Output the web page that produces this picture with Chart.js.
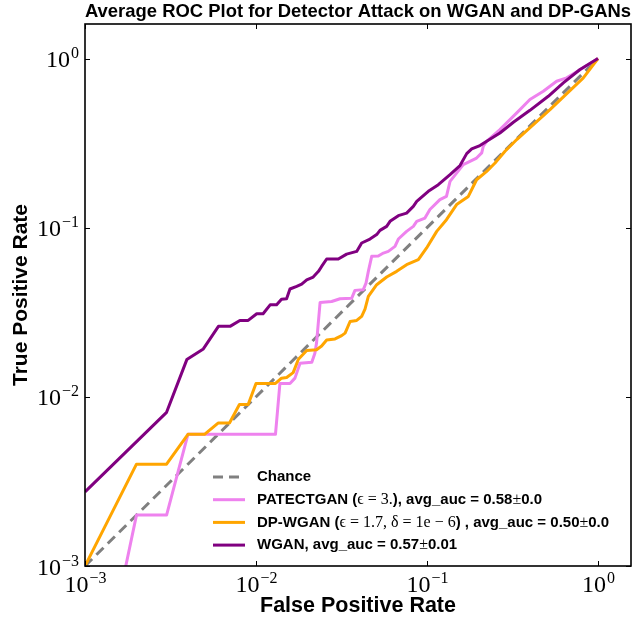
<!DOCTYPE html>
<html>
<head>
<meta charset="utf-8">
<script src="https://cdn.jsdelivr.net/npm/chart.js@4.4.0/dist/chart.umd.min.js"></script>
<style>
  html, body { margin: 0; padding: 0; background: #fff; }
</style>
</head>
<body>
<canvas id="rocChart" width="634" height="619"></canvas>
<script>
// Average ROC curves, log-log axes

const tickValues = [0.001, 0.01, 0.1, 1];
const tickBase = "10";
const tickExponents = ["−3", "−2", "−1", "0"];

const chanceFpr = [0.001, 1];
const chanceTpr = [0.001, 1];

const patectFpr = [0.0015, 0.002, 0.003, 0.004, 0.013, 0.0138, 0.0158, 0.0169, 0.0181, 0.0212, 0.0221, 0.0226, 0.0237, 0.0277, 0.031, 0.0363, 0.0379, 0.0424, 0.044, 0.0454, 0.0475, 0.0519, 0.0556, 0.0594, 0.065, 0.068, 0.076, 0.0832, 0.0871, 0.0973, 0.104, 0.119, 0.13, 0.1364, 0.163, 0.195, 0.209, 0.2135, 0.2234, 0.267, 0.335, 0.4, 0.479, 0.573, 0.656, 0.821, 1];
const patectTpr = [0.0005, 0.002, 0.002, 0.006, 0.006, 0.012, 0.012, 0.0129, 0.0158, 0.016, 0.0181, 0.0208, 0.0361, 0.0366, 0.038, 0.0383, 0.0426, 0.043, 0.047, 0.0552, 0.0677, 0.068, 0.0708, 0.0724, 0.0775, 0.0857, 0.0951, 0.1018, 0.109, 0.114, 0.128, 0.1465, 0.153, 0.188, 0.236, 0.258, 0.277, 0.303, 0.324, 0.38, 0.477, 0.572, 0.641, 0.734, 0.769, 0.881, 1];

const dpwganFpr = [0.001, 0.002, 0.003, 0.004, 0.005, 0.006, 0.007, 0.008, 0.009, 0.01, 0.013, 0.0141, 0.0151, 0.0165, 0.0177, 0.0198, 0.0226, 0.0242, 0.0259, 0.029, 0.0317, 0.0332, 0.0355, 0.0388, 0.0415, 0.0434, 0.0454, 0.0508, 0.0581, 0.0665, 0.076, 0.089, 0.0995, 0.114, 0.13, 0.149, 0.1745, 0.195, 0.2234, 0.25, 0.286, 0.335, 0.524, 0.821, 1];
const dpwganTpr = [0.001, 0.004, 0.004, 0.006, 0.006, 0.007, 0.007, 0.009, 0.009, 0.012, 0.012, 0.0129, 0.013, 0.0139, 0.0167, 0.0188, 0.019, 0.02, 0.0217, 0.022, 0.023, 0.0238, 0.0279, 0.0283, 0.0299, 0.033, 0.0392, 0.046, 0.0511, 0.0552, 0.0604, 0.0647, 0.0759, 0.0951, 0.1115, 0.137, 0.153, 0.192, 0.215, 0.241, 0.283, 0.332, 0.499, 0.769, 1];

const wganFpr = [0.001, 0.003, 0.00394, 0.00492, 0.00603, 0.00705, 0.00805, 0.009, 0.0101, 0.011, 0.0121, 0.0132, 0.0141, 0.0151, 0.0158, 0.0173, 0.0185, 0.0198, 0.0216, 0.0232, 0.0242, 0.0259, 0.0303, 0.0339, 0.0388, 0.0415, 0.0464, 0.0508, 0.0531, 0.0581, 0.0608, 0.068, 0.076, 0.0832, 0.0871, 0.1018, 0.1165, 0.1364, 0.156, 0.1707, 0.1826, 0.204, 0.2234, 0.267, 0.32, 0.4, 0.512, 0.627, 0.785, 1];
const wganTpr = [0.00274, 0.0081, 0.0166, 0.0192, 0.0261, 0.0261, 0.0283, 0.0283, 0.031, 0.031, 0.035, 0.035, 0.0378, 0.038, 0.0434, 0.045, 0.0464, 0.0492, 0.0511, 0.0552, 0.059, 0.0653, 0.0653, 0.0698, 0.0724, 0.0812, 0.0857, 0.091, 0.0964, 0.1018, 0.109, 0.1178, 0.122, 0.1337, 0.143, 0.164, 0.1795, 0.206, 0.233, 0.274, 0.292, 0.306, 0.324, 0.363, 0.42, 0.494, 0.598, 0.718, 0.861, 1];

// text between $...$ is drawn in the serif "math" font
const seriesLabels = [
   "Chance",
   "PATECTGAN ($ϵ = 3.$), avg_auc = 0.58$±$0.0",
   "DP-WGAN ($ϵ = 1.7, δ = 1e − 6$) , avg_auc = 0.50$±$0.0",
   "WGAN, avg_auc = 0.57$±$0.01",
];

function toPoints(xs, ys) {
   return xs.map((x, i) => ({ x: x, y: ys[i] }));
}

const baseFont = "24px 'Liberation Serif'";
const expFont = "16px 'Liberation Serif'";

// inward tick marks on all four sides, the box, and 10^n labels
const frameTicks = {
   id: "frameTicks",
   afterDatasetsDraw(chart) {
      const { ctx, chartArea: a } = chart;
      const xs = chart.scales.x;
      const ys = chart.scales.y;
      ctx.save();
      ctx.strokeStyle = "#000";
      ctx.lineWidth = 1;
      ctx.beginPath();
      tickValues.forEach((v) => {
         const px = Math.round(xs.getPixelForValue(v)) + 0.5;
         ctx.moveTo(px, a.bottom);
         ctx.lineTo(px, a.bottom - 5);
         ctx.moveTo(px, a.top);
         ctx.lineTo(px, a.top + 5);
         const py = Math.round(ys.getPixelForValue(v)) + 0.5;
         ctx.moveTo(a.left, py);
         ctx.lineTo(a.left + 5, py);
         ctx.moveTo(a.right, py);
         ctx.lineTo(a.right - 5, py);
      });
      ctx.stroke();
      ctx.lineWidth = 1.6;
      ctx.strokeRect(a.left, a.top, a.right - a.left, a.bottom - a.top);

      ctx.fillStyle = "#000";
      ctx.textBaseline = "alphabetic";
      ctx.textAlign = "left";
      tickValues.forEach((v, i) => {
         ctx.font = baseFont;
         const w1 = ctx.measureText(tickBase).width;
         ctx.font = expFont;
         const w2 = ctx.measureText(tickExponents[i]).width;

         // x axis
         const px = xs.getPixelForValue(v);
         let sx = px - (w1 + w2) / 2;
         const bx = a.bottom + 26;
         ctx.font = baseFont;
         ctx.fillText(tickBase, sx, bx);
         ctx.font = expFont;
         ctx.fillText(tickExponents[i], sx + w1 + 1, bx - 9);

         // y axis
         const py = ys.getPixelForValue(v);
         sx = a.left - 6 - (w1 + w2 + 1);
         const by = py + 8.5;
         ctx.font = baseFont;
         ctx.fillText(tickBase, sx, by);
         ctx.font = expFont;
         ctx.fillText(tickExponents[i], sx + w1 + 1, by - 9);
      });
      ctx.restore();
   },
};

// legend in the lower right of the plot, no frame
const insideLegend = {
   id: "insideLegend",
   afterDraw(chart) {
      const { ctx, chartArea: a } = chart;
      const x0 = a.left + 128;
      const y0 = a.bottom - 89;
      ctx.save();
      chart.data.datasets.forEach((ds, i) => {
         const y = y0 + i * 22.7;
         ctx.strokeStyle = ds.borderColor;
         ctx.lineWidth = ds.borderWidth;
         ctx.setLineDash(ds.borderDash || []);
         ctx.beginPath();
         ctx.moveTo(x0, y);
         ctx.lineTo(x0 + 32, y);
         ctx.stroke();
         ctx.setLineDash([]);

         let tx = x0 + 44;
         ctx.fillStyle = "#000";
         ctx.textBaseline = "middle";
         seriesLabels[i].split("$").forEach((part, k) => {
            ctx.font = k % 2 === 1 ? "16px 'Liberation Serif'" : "bold 15px 'Liberation Sans'";
            ctx.fillText(part, tx, y);
            tx += ctx.measureText(part).width;
         });
      });
      ctx.restore();
   },
};

const ctx = document.getElementById("rocChart").getContext("2d");
const rocChart = new Chart(ctx, {
   type: "scatter",
   data: {
      datasets: [
         {
            label: seriesLabels[0],
            data: toPoints(chanceFpr, chanceTpr),
            borderColor: "#808080",
            borderDash: [10, 6],
            borderWidth: 3,
            order: 4,
         },
         {
            label: seriesLabels[1],
            data: toPoints(patectFpr, patectTpr),
            borderColor: "#ee82ee",
            borderWidth: 3,
            order: 3,
         },
         {
            label: seriesLabels[2],
            data: toPoints(dpwganFpr, dpwganTpr),
            borderColor: "#ffa500",
            borderWidth: 3,
            order: 2,
         },
         {
            label: seriesLabels[3],
            data: toPoints(wganFpr, wganTpr),
            borderColor: "#800080",
            borderWidth: 3,
            order: 1,
         },
      ],
   },
   options: {
      responsive: false,
      animation: false,
      showLine: true,
      elements: {
         point: { radius: 0, hoverRadius: 0 },
         line: { tension: 0, borderCapStyle: "butt", borderJoinStyle: "round" },
      },
      datasets: { scatter: { clip: 0 } },
      layout: { padding: { left: 0, right: 3, top: 0, bottom: 0 } },
      plugins: {
         legend: { display: false },
         tooltip: { enabled: false },
         title: {
            display: true,
            text: "Average ROC Plot for Detector Attack on WGAN and DP-GANs",
            fullSize: false,
            color: "#000",
            font: { family: "'Liberation Sans'", size: 18.5, weight: "bold", lineHeight: 1.2 },
            padding: { top: 1, bottom: 0.8 },
         },
      },
      scales: {
         x: {
            type: "logarithmic",
            min: 0.001,
            max: 1.56,
            afterBuildTicks: (scale) => {
               scale.ticks = tickValues.map((v) => ({ value: v }));
            },
            afterFit: (scale) => {
               scale.height = 53;
            },
            grid: { display: false },
            border: { display: false },
            ticks: { display: false },
            title: {
               display: true,
               text: "False Positive Rate",
               color: "#000",
               font: { family: "'Liberation Sans'", size: 21.5, weight: "bold" },
               padding: { top: 0, bottom: 0 },
            },
         },
         y: {
            type: "logarithmic",
            min: 0.001,
            max: 1.6,
            afterBuildTicks: (scale) => {
               scale.ticks = tickValues.map((v) => ({ value: v }));
            },
            afterFit: (scale) => {
               scale.width = 85;
            },
            grid: { display: false },
            border: { display: false },
            ticks: { display: false },
            title: {
               display: true,
               text: "True Positive Rate",
               color: "#000",
               font: { family: "'Liberation Sans'", size: 21, weight: "bold" },
               padding: { top: 9, bottom: 0 },
            },
         },
      },
   },
   plugins: [frameTicks, insideLegend],
});
</script>
</body>
</html>
